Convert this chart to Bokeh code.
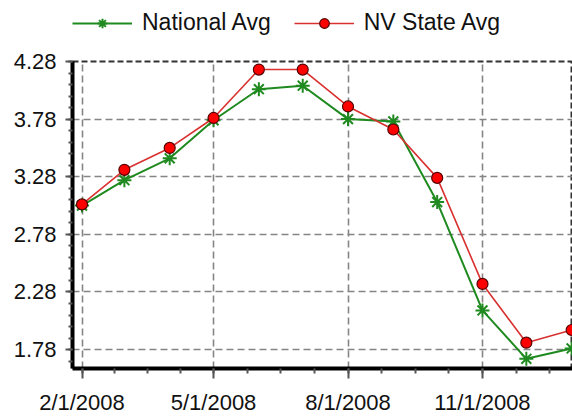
import pandas as pd
from bokeh.plotting import figure
from bokeh.layouts import column
from bokeh.models import (Range1d, FixedTicker, CustomJSTickFormatter, Legend,
                          LegendItem, ColumnDataSource)
from bokeh.embed import file_html
from bokeh.resources import INLINE

# ---- data ----
months = ["2008-02-01", "2008-03-01", "2008-04-01", "2008-05-01", "2008-06-01",
          "2008-07-01", "2008-08-01", "2008-09-01", "2008-10-01", "2008-11-01",
          "2008-12-01", "2009-01-01"]
national_avg = [3.03, 3.25, 3.44, 3.77, 4.04, 4.07, 3.78, 3.76, 3.06, 2.12, 1.70, 1.79]
nv_state_avg = [3.04, 3.34, 3.53, 3.79, 4.21, 4.21, 3.89, 3.69, 3.27, 2.35, 1.84, 1.95]
y_ticks = [1.78, 2.28, 2.78, 3.28, 3.78, 4.28]
x_tick_dates = ["2008-02-01", "2008-05-01", "2008-08-01", "2008-11-01", "2009-02-01"]
series_names = ["National Avg", "NV State Avg"]

def to_ms(s):
    return pd.Timestamp(s).value // 10**6

src = ColumnDataSource(dict(x=[to_ms(m) for m in months],
                            nat=national_avg, nv=nv_state_avg))

FONT = "Liberation Sans"
GREEN = "#1f8a1f"
RED = "#d93030"


def add_series(fig):
    l1 = fig.line("x", "nat", source=src, line_color=GREEN, line_width=2)
    s1 = fig.scatter("x", "nat", source=src, marker="asterisk", size=14,
                     line_color=GREEN, line_width=2)
    l2 = fig.line("x", "nv", source=src, line_color=RED, line_width=1.6)
    s2 = fig.scatter("x", "nv", source=src, marker="circle", size=11,
                     fill_color="#ff0000", line_color="#550000", line_width=1.2)
    return l1, s1, l2, s2


# ---- main plot ----
p = figure(width=572, height=380, output_backend="svg", toolbar_location=None,
           x_range=Range1d(to_ms("2008-01-25 12:00"), to_ms("2009-01-01 14:00")),
           y_range=Range1d(1.616, 4.28),
           min_border_left=72, min_border_top=24, min_border_right=0,
           min_border_bottom=48)
p.background_fill_color = "white"
p.border_fill_color = "white"
p.outline_line_color = "#333333"
p.outline_line_dash = "6 3"
p.outline_line_width = 2

major_ms = [to_ms(d) for d in x_tick_dates]
minor_ms = []
for a, b in zip(major_ms[:-1], major_ms[1:]):
    minor_ms += [a + (b - a) * k / 4 for k in range(4)]
p.xaxis.ticker = FixedTicker(ticks=major_ms[:-1], minor_ticks=minor_ms)
p.xaxis.formatter = CustomJSTickFormatter(code="""
const d = new Date(tick);
return (d.getUTCMonth()+1) + "/" + d.getUTCDate() + "/" + d.getUTCFullYear();
""")
minor_y = [round(1.68 + 0.1 * i, 2) for i in range(27)]
p.yaxis.ticker = FixedTicker(ticks=y_ticks, minor_ticks=minor_y)
p.yaxis.formatter = CustomJSTickFormatter(code="return tick.toFixed(2);")

for ax in (p.xaxis[0], p.yaxis[0]):
    ax.axis_line_color = "black"
    ax.axis_line_width = 4
    ax.major_tick_line_color = "#555555"
    ax.minor_tick_line_color = "#555555"
    ax.major_tick_line_width = 2
    ax.minor_tick_line_width = 2
    ax.major_tick_in = 0
    ax.minor_tick_in = 0
    ax.major_label_text_font = FONT
    ax.major_label_text_font_size = "22px"
    ax.major_label_text_color = "#111111"
p.xaxis.major_tick_out = 10
p.xaxis.minor_tick_out = 5
p.xaxis.major_label_standoff = 11
p.yaxis.major_tick_out = 7
p.yaxis.minor_tick_out = 4
p.yaxis.major_label_standoff = 9

for g in (p.xgrid[0], p.ygrid[0]):
    g.grid_line_color = "#858585"
    g.grid_line_dash = "7 4"
    g.grid_line_width = 1.6

add_series(p)

# ---- legend strip (own small figure so it is not clipped) ----
lf = figure(width=572, height=37, output_backend="svg", toolbar_location=None,
            x_range=Range1d(0, 1), y_range=Range1d(100, 101),
            x_axis_location=None, y_axis_location=None,
            min_border_left=0, min_border_right=0, min_border_top=0,
            min_border_bottom=0)
lf.outline_line_color = None
lf.grid.visible = False
ll1, ls1, ll2, ls2 = add_series(lf)

legend = Legend(items=[LegendItem(label=series_names[0], renderers=[ll1, ls1]),
                       LegendItem(label=series_names[1], renderers=[ll2, ls2])],
                location=(0, 1), orientation="horizontal",
                glyph_width=60, glyph_height=24, label_height=24,
                label_standoff=10, spacing=23, padding=0, margin=0,
                label_text_font=FONT, label_text_font_size="23px",
                label_text_color="#111111",
                border_line_color=None, background_fill_alpha=0)
lf.add_layout(legend, "center")

layout = column(lf, p, spacing=0)
open("out.html", "w").write(file_html(layout, INLINE))
